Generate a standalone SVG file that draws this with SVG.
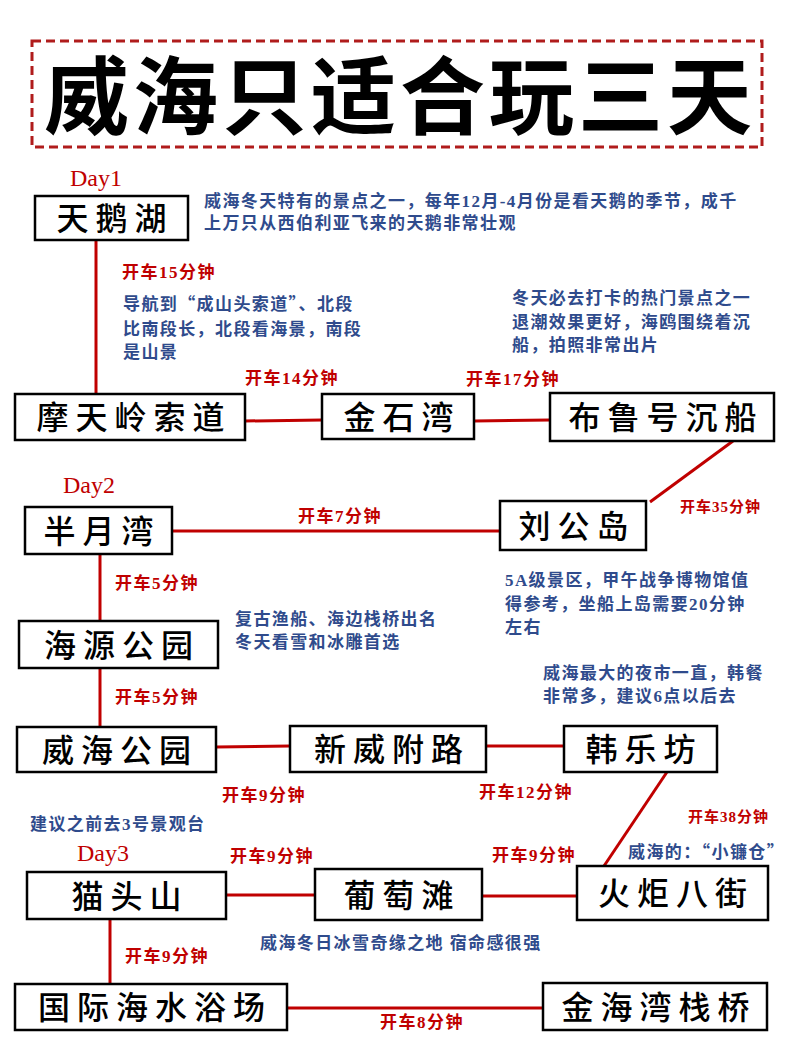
<svg xmlns="http://www.w3.org/2000/svg" width="793" height="1058" viewBox="0 0 793 1058">
<style>
.title{font-family:"Noto Sans CJK SC",sans-serif;font-size:85px;font-weight:bold;fill:#000;letter-spacing:4px}
.box{fill:#fff;stroke:#000;stroke-width:2.5}
.nt{font-family:"Noto Sans CJK SC",sans-serif;font-size:32px;font-weight:500;fill:#000;letter-spacing:7px;text-anchor:middle}
.ln{stroke:#c00000;stroke-width:3;fill:none}
.lb{font-family:"Liberation Serif","Noto Sans CJK SC",serif;font-size:17px;font-weight:bold;fill:#c00000;letter-spacing:1.5px}
.lbs{font-size:15px;letter-spacing:1px}
.ds{font-family:"Liberation Serif","Noto Sans CJK SC",serif;font-size:17px;font-weight:bold;fill:#2f4b8c;letter-spacing:1.4px}
.day{font-family:"Liberation Serif",serif;font-size:24px;fill:#c00000}
.cjk{font-family:"Noto Sans CJK SC",sans-serif}
</style>
<rect width="793" height="1058" fill="#fff"/>
<g id="title">
<rect x="32" y="41" width="730" height="106" fill="none" stroke="#b01c1c" stroke-width="3" stroke-dasharray="9,5"/>
<text class="title" x="400" y="128" text-anchor="middle">威海只适合玩三天</text>
</g>
<g id="connectors">
<line class="ln" x1="96" y1="240" x2="96" y2="394"/>
<line class="ln" x1="245" y1="421" x2="322" y2="420"/>
<line class="ln" x1="474" y1="421" x2="550" y2="420"/>
<line class="ln" x1="733" y1="441" x2="650" y2="502"/>
<line class="ln" x1="172" y1="531" x2="500" y2="531"/>
<line class="ln" x1="100" y1="554" x2="100" y2="621"/>
<line class="ln" x1="100" y1="668" x2="100" y2="727"/>
<line class="ln" x1="216" y1="747" x2="290" y2="746"/>
<line class="ln" x1="486" y1="746" x2="564" y2="746"/>
<line class="ln" x1="667" y1="772" x2="604" y2="866"/>
<line class="ln" x1="226" y1="895" x2="315" y2="895"/>
<line class="ln" x1="482" y1="896" x2="577" y2="896"/>
<line class="ln" x1="110" y1="919" x2="110" y2="984"/>
<line class="ln" x1="287" y1="1008" x2="543" y2="1008"/>
<text class="lb" x="122" y="278">开车15分钟</text>
<text class="lb" x="245" y="384">开车14分钟</text>
<text class="lb" x="466" y="385">开车17分钟</text>
<text class="lb lbs" x="680" y="512">开车35分钟</text>
<text class="lb" x="298" y="522">开车7分钟</text>
<text class="lb" x="115" y="589">开车5分钟</text>
<text class="lb" x="115" y="703">开车5分钟</text>
<text class="lb" x="222" y="801">开车9分钟</text>
<text class="lb" x="479" y="798">开车12分钟</text>
<text class="lb lbs" x="688" y="822">开车38分钟</text>
<text class="lb" x="230" y="862">开车9分钟</text>
<text class="lb" x="492" y="861">开车9分钟</text>
<text class="lb" x="125" y="962">开车9分钟</text>
<text class="lb" x="380" y="1028">开车8分钟</text>
</g>
<g id="days">
<text class="day" x="70" y="186">Day1</text>
<text class="day" x="63" y="493">Day2</text>
<text class="day" x="77" y="861">Day3</text>
</g>
<g id="node-tianehu"><rect class="box" x="35" y="196" width="153" height="44"/><text class="nt" x="115" y="230">天鹅湖</text></g>
<g id="node-motianling"><rect class="box" x="15" y="394" width="230" height="46"/><text class="nt" x="134" y="429">摩天岭索道</text></g>
<g id="node-jinshiwan"><rect class="box" x="322" y="394" width="152" height="45"/><text class="nt" x="402" y="429">金石湾</text></g>
<g id="node-bulu"><rect class="box" x="550" y="393" width="224" height="48"/><text class="nt" x="666" y="429">布鲁号沉船</text></g>
<g id="node-banyuewan"><rect class="box" x="25" y="507" width="147" height="47"/><text class="nt" x="102" y="543">半月湾</text></g>
<g id="node-liugongdao"><rect class="box" x="500" y="501" width="146" height="49"/><text class="nt" x="577" y="538">刘公岛</text></g>
<g id="node-haiyuan"><rect class="box" x="19" y="621" width="199" height="47"/><text class="nt" x="122" y="657">海源公园</text></g>
<g id="node-weihaigongyuan"><rect class="box" x="17" y="727" width="199" height="45"/><text class="nt" x="120" y="762">威海公园</text></g>
<g id="node-xinweifu"><rect class="box" x="290" y="726" width="196" height="46"/><text class="nt" x="392" y="761">新威附路</text></g>
<g id="node-hanlefang"><rect class="box" x="564" y="726" width="153" height="46"/><text class="nt" x="644" y="761">韩乐坊</text></g>
<g id="node-maotoushan"><rect class="box" x="27" y="872" width="199" height="47"/><text class="nt" x="130" y="908">猫头山</text></g>
<g id="node-putaotan"><rect class="box" x="315" y="869" width="167" height="51"/><text class="nt" x="402" y="907">葡萄滩</text></g>
<g id="node-huoju"><rect class="box" x="577" y="866" width="191" height="54"/><text class="nt" x="676" y="905">火炬八街</text></g>
<g id="node-guoji"><rect class="box" x="15" y="984" width="272" height="46"/><text class="nt" x="155" y="1019">国际海水浴场</text></g>
<g id="node-jinhaiwan"><rect class="box" x="543" y="983" width="224" height="47"/><text class="nt" x="659" y="1019">金海湾栈桥</text></g>
<g id="notes">
<text class="ds" x="204" y="207">威海冬天特有的景点之一，每年12月-4月份是看天鹅的季节，成千</text>
<text class="ds" x="204" y="229">上万只从西伯利亚飞来的天鹅非常壮观</text>
<text class="ds" x="123" y="310">导航到<tspan class="cjk">“</tspan>成山头索道<tspan class="cjk">”</tspan>、北段</text>
<text class="ds" x="123" y="335">比南段长，北段看海景，南段</text>
<text class="ds" x="123" y="358">是山景</text>
<text class="ds" x="512" y="304">冬天必去打卡的热门景点之一</text>
<text class="ds" x="512" y="328">退潮效果更好，海鸥围绕着沉</text>
<text class="ds" x="512" y="351">船，拍照非常出片</text>
<text class="ds" x="505" y="586">5A级景区，甲午战争博物馆值</text>
<text class="ds" x="505" y="610">得参考，坐船上岛需要20分钟</text>
<text class="ds" x="505" y="633">左右</text>
<text class="ds" x="235" y="625">复古渔船、海边栈桥出名</text>
<text class="ds" x="235" y="648">冬天看雪和冰雕首选</text>
<text class="ds" x="543" y="679">威海最大的夜市一直，韩餐</text>
<text class="ds" x="543" y="702">非常多，建议6点以后去</text>
<text class="ds" x="30" y="830">建议之前去3号景观台</text>
<text class="ds" x="628" y="858">威海的：<tspan class="cjk">“</tspan>小镰仓<tspan class="cjk">”</tspan></text>
<text class="ds" x="260" y="949">威海冬日冰雪奇缘之地 宿命感很强</text>
</g>
</svg>
